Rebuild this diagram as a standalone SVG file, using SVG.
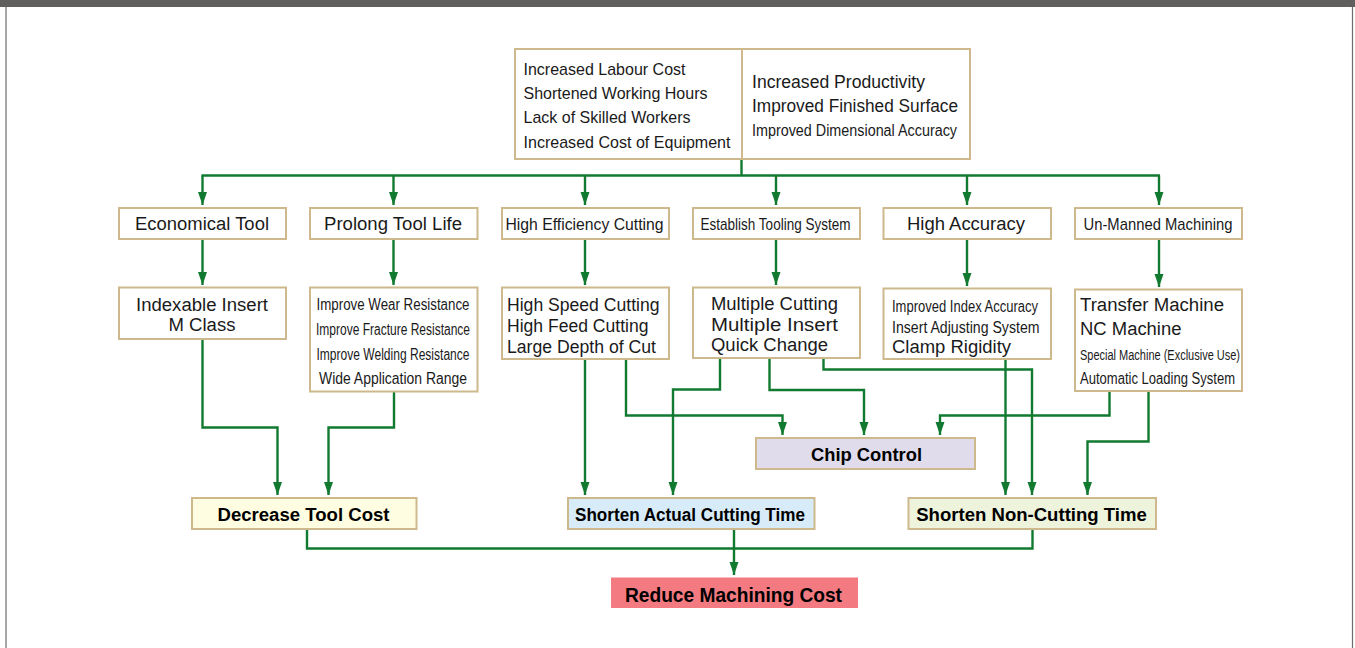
<svg xmlns="http://www.w3.org/2000/svg" width="1355" height="648" viewBox="0 0 1355 648">
<defs>
<marker id="ah" markerUnits="userSpaceOnUse" markerWidth="14" markerHeight="10" refX="13" refY="4.5" orient="auto">
<path d="M0,0 L13,4.5 L0,9 z" fill="#117a30"/>
</marker>
<style>
.box{fill:#fff;stroke:#cdb98b;stroke-width:2}
.t{font-family:"Liberation Sans",Arial,sans-serif;fill:#1a1a1a}
.b{font-family:"Liberation Sans",Arial,sans-serif;font-weight:bold;fill:#000}
.c line,.c polyline{fill:none;stroke:#117a30;stroke-width:2.4}
.a{marker-end:url(#ah)}
</style>
</defs>
<rect x="0" y="0" width="1355" height="648" fill="#fff"/>
<rect x="0" y="0" width="1355" height="7" fill="#605f5d"/>
<line x1="6" y1="7" x2="6" y2="648" stroke="#6d6d6d" stroke-width="1.2"/>
<line x1="1352.5" y1="7" x2="1352.5" y2="648" stroke="#6d6d6d" stroke-width="1.2"/>

<g id="connectors" class="c">
<line x1="741.5" y1="159" x2="741.5" y2="175.5"/>
<line x1="201.5" y1="175.5" x2="1160" y2="175.5"/>
<line class="a" x1="202.5" y1="175.5" x2="202.5" y2="205"/>
<line class="a" x1="393.5" y1="175.5" x2="393.5" y2="205"/>
<line class="a" x1="585" y1="175.5" x2="585" y2="205"/>
<line class="a" x1="776" y1="175.5" x2="776" y2="205"/>
<line class="a" x1="967" y1="175.5" x2="967" y2="205"/>
<line class="a" x1="1159" y1="175.5" x2="1159" y2="205"/>
<line class="a" x1="202.5" y1="239" x2="202.5" y2="285"/>
<line class="a" x1="393.5" y1="239" x2="393.5" y2="285"/>
<line class="a" x1="585" y1="239" x2="585" y2="285"/>
<line class="a" x1="776" y1="239" x2="776" y2="285"/>
<line class="a" x1="967" y1="239" x2="967" y2="286"/>
<line class="a" x1="1159" y1="239" x2="1159" y2="287"/>
<polyline class="a" points="202.5,339 202.5,427.5 277.5,427.5 277.5,495"/>
<polyline class="a" points="394,391.5 394,427.5 328.5,427.5 328.5,495"/>
<line class="a" x1="585" y1="359" x2="585" y2="495"/>
<polyline class="a" points="626,359 626,415.5 782.5,415.5 782.5,435"/>
<polyline class="a" points="720,358 720,389.5 673,389.5 673,495"/>
<polyline class="a" points="769.5,358 769.5,390 864,390 864,435"/>
<polyline class="a" points="823.5,358 823.5,369.5 1032,369.5 1032,495"/>
<line class="a" x1="1005.5" y1="359" x2="1005.5" y2="495"/>
<polyline class="a" points="1109.5,391 1109.5,415.5 940,415.5 940,435"/>
<polyline class="a" points="1148.5,391 1148.5,441.5 1087.5,441.5 1087.5,495"/>
<polyline points="307,529 307,548.5 1032.5,548.5 1032.5,529"/>
<line class="a" x1="734" y1="529" x2="734" y2="575"/>
</g>

<g id="top">
<rect class="box" x="515" y="49" width="455" height="110"/>
<line x1="742" y1="49" x2="742" y2="159" stroke="#cdb98b" stroke-width="2"/>
<text class="t" font-size="17" x="523.5" y="75" textLength="162" lengthAdjust="spacingAndGlyphs">Increased Labour Cost</text>
<text class="t" font-size="17" x="523.5" y="99" textLength="184" lengthAdjust="spacingAndGlyphs">Shortened Working Hours</text>
<text class="t" font-size="17" x="523.5" y="123" textLength="167" lengthAdjust="spacingAndGlyphs">Lack of Skilled Workers</text>
<text class="t" font-size="17" x="523.5" y="148" textLength="207" lengthAdjust="spacingAndGlyphs">Increased Cost of Equipment</text>
<text class="t" font-size="17.5" x="752" y="88" textLength="173" lengthAdjust="spacingAndGlyphs">Increased Productivity</text>
<text class="t" font-size="17.5" x="752" y="112" textLength="206" lengthAdjust="spacingAndGlyphs">Improved Finished Surface</text>
<text class="t" font-size="16" x="752" y="136" textLength="205" lengthAdjust="spacingAndGlyphs">Improved Dimensional Accuracy</text>
</g>

<g id="economical-tool">
<rect class="box" x="119" y="208" width="167" height="31"/>
<text class="t" font-size="18" x="202" y="230" text-anchor="middle" textLength="134" lengthAdjust="spacingAndGlyphs">Economical Tool</text>
</g>
<g id="prolong-tool-life">
<rect class="box" x="310" y="208" width="167.5" height="31"/>
<text class="t" font-size="18" x="393" y="230" text-anchor="middle" textLength="138" lengthAdjust="spacingAndGlyphs">Prolong Tool Life</text>
</g>
<g id="high-efficiency-cutting">
<rect class="box" x="502" y="208" width="167" height="31"/>
<text class="t" font-size="17" x="584.5" y="230" text-anchor="middle" textLength="158" lengthAdjust="spacingAndGlyphs">High Efficiency Cutting</text>
</g>
<g id="establish-tooling-system">
<rect class="box" x="693" y="208" width="167" height="31"/>
<text class="t" font-size="17" x="775.5" y="230" text-anchor="middle" textLength="150" lengthAdjust="spacingAndGlyphs">Establish Tooling System</text>
</g>
<g id="high-accuracy">
<rect class="box" x="883.5" y="208" width="167.5" height="31"/>
<text class="t" font-size="18" x="966" y="230" text-anchor="middle" textLength="118" lengthAdjust="spacingAndGlyphs">High Accuracy</text>
</g>
<g id="un-manned-machining">
<rect class="box" x="1075" y="208" width="167" height="31"/>
<text class="t" font-size="17" x="1158" y="230" text-anchor="middle" textLength="149" lengthAdjust="spacingAndGlyphs">Un-Manned Machining</text>
</g>

<g id="indexable-insert">
<rect class="box" x="119" y="287.5" width="167" height="51.5"/>
<text class="t" font-size="18" x="202" y="310.5" text-anchor="middle" textLength="132" lengthAdjust="spacingAndGlyphs">Indexable Insert</text>
<text class="t" font-size="18" x="202" y="330.5" text-anchor="middle" textLength="67" lengthAdjust="spacingAndGlyphs">M Class</text>
</g>
<g id="improve-resistance">
<rect class="box" x="310" y="287.5" width="167.5" height="104"/>
<text class="t" font-size="16" x="393" y="310" text-anchor="middle" textLength="153" lengthAdjust="spacingAndGlyphs">Improve Wear Resistance</text>
<text class="t" font-size="16" x="393" y="335" text-anchor="middle" textLength="154" lengthAdjust="spacingAndGlyphs">Improve Fracture Resistance</text>
<text class="t" font-size="16" x="393" y="360" text-anchor="middle" textLength="153" lengthAdjust="spacingAndGlyphs">Improve Welding Resistance</text>
<text class="t" font-size="16" x="393" y="384" text-anchor="middle" textLength="148" lengthAdjust="spacingAndGlyphs">Wide Application Range</text>
</g>
<g id="high-speed-cutting">
<rect class="box" x="502" y="287.5" width="167" height="71.5"/>
<text class="t" font-size="17.5" x="507" y="310.5" textLength="152.5" lengthAdjust="spacingAndGlyphs">High Speed Cutting</text>
<text class="t" font-size="17.5" x="507" y="331.5" textLength="141.5" lengthAdjust="spacingAndGlyphs">High Feed Cutting</text>
<text class="t" font-size="17.5" x="507" y="352.5" textLength="149" lengthAdjust="spacingAndGlyphs">Large Depth of Cut</text>
</g>
<g id="multiple-cutting">
<rect class="box" x="693" y="287.5" width="167" height="70.5"/>
<text class="t" font-size="18" x="711" y="310" textLength="127" lengthAdjust="spacingAndGlyphs">Multiple Cutting</text>
<text class="t" font-size="18" x="711" y="330.5" textLength="127" lengthAdjust="spacingAndGlyphs">Multiple Insert</text>
<text class="t" font-size="18" x="711" y="350.5" textLength="117" lengthAdjust="spacingAndGlyphs">Quick Change</text>
</g>
<g id="improved-index-accuracy">
<rect class="box" x="883.5" y="288.5" width="167.5" height="70.5"/>
<text class="t" font-size="16" x="892" y="311.5" textLength="146" lengthAdjust="spacingAndGlyphs">Improved Index Accuracy</text>
<text class="t" font-size="16" x="892" y="332.5" textLength="147.5" lengthAdjust="spacingAndGlyphs">Insert Adjusting System</text>
<text class="t" font-size="18" x="892" y="352.5" textLength="119" lengthAdjust="spacingAndGlyphs">Clamp Rigidity</text>
</g>
<g id="transfer-machine">
<rect class="box" x="1075" y="289.5" width="167" height="101.5"/>
<text class="t" font-size="18" x="1080" y="310.5" textLength="144" lengthAdjust="spacingAndGlyphs">Transfer Machine</text>
<text class="t" font-size="18" x="1080" y="335" textLength="101.5" lengthAdjust="spacingAndGlyphs">NC Machine</text>
<text class="t" font-size="14" x="1080" y="360" textLength="160" lengthAdjust="spacingAndGlyphs">Special Machine (Exclusive Use)</text>
<text class="t" font-size="16" x="1080" y="384" textLength="155" lengthAdjust="spacingAndGlyphs">Automatic Loading System</text>
</g>

<g id="chip-control">
<rect x="756" y="438" width="219" height="31" fill="#e1dcec" stroke="#cdb98b" stroke-width="2"/>
<text class="b" font-size="18" x="866.5" y="460.5" text-anchor="middle" textLength="111" lengthAdjust="spacingAndGlyphs">Chip Control</text>
</g>
<g id="decrease-tool-cost">
<rect x="192" y="498" width="224.5" height="31" fill="#fffde1" stroke="#cdb98b" stroke-width="2"/>
<text class="b" font-size="18" x="303.5" y="520.5" text-anchor="middle" textLength="172" lengthAdjust="spacingAndGlyphs">Decrease Tool Cost</text>
</g>
<g id="shorten-actual-cutting-time">
<rect x="568" y="498" width="246.5" height="31" fill="#d7ecf8" stroke="#cdb98b" stroke-width="2"/>
<text class="b" font-size="17.5" x="690" y="520.5" text-anchor="middle" textLength="230" lengthAdjust="spacingAndGlyphs">Shorten Actual Cutting Time</text>
</g>
<g id="shorten-non-cutting-time">
<rect x="908.5" y="498" width="247.5" height="31" fill="#eef3dc" stroke="#cdb98b" stroke-width="2"/>
<text class="b" font-size="17.5" x="1031.5" y="520.5" text-anchor="middle" textLength="230.5" lengthAdjust="spacingAndGlyphs">Shorten Non-Cutting Time</text>
</g>
<g id="reduce-machining-cost">
<rect x="611" y="577.5" width="247" height="30.5" fill="#f37a80"/>
<text class="b" font-size="20.5" x="733.5" y="601.5" text-anchor="middle" textLength="217" lengthAdjust="spacingAndGlyphs">Reduce Machining Cost</text>
</g>
</svg>
